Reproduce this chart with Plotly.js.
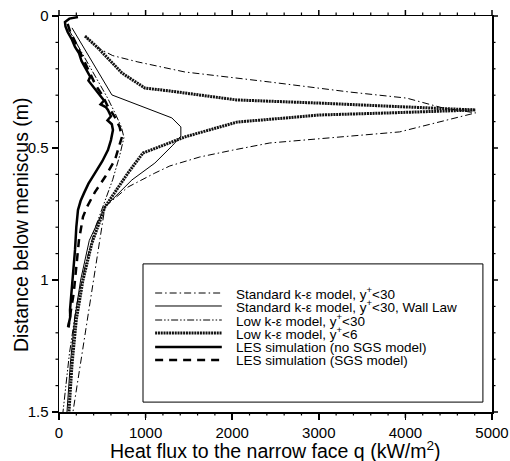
<!DOCTYPE html>
<html>
<head>
<meta charset="utf-8">
<script src="https://cdn.plot.ly/plotly-3.0.1.min.js"></script>
<style>
  html, body { margin: 0; padding: 0; background: #fff; }
  #chart { width: 510px; height: 461px; }
</style>
</head>
<body>
<div id="chart"></div>
<script>
// Heat flux to the narrow face (kW/m^2) versus distance below the meniscus (m)

// Standard k-eps model, y+<30
const stdQ = [300, 450, 620, 911, 1453, 2088, 2434, 3356, 4014, 4429, 4810, 3933, 2434, 2007, 1626, 1280, 1107, 796, 531, 161];
const stdD = [0.075, 0.121, 0.15, 0.174, 0.212, 0.235, 0.25, 0.288, 0.311, 0.348, 0.367, 0.439, 0.481, 0.508, 0.534, 0.568, 0.595, 0.648, 0.723, 1.5];

// Standard k-eps model, y+<30, wall law
const wallQ = [150, 611, 1303, 1407, 1407, 1315, 1107, 842, 531, 350, 250, 180, 130, 92];
const wallD = [0.045, 0.299, 0.386, 0.42, 0.455, 0.489, 0.557, 0.621, 0.723, 0.85, 1.0, 1.15, 1.32, 1.5];

// Low k-eps model, y+<30
const low30Q = [115, 250, 400, 560, 650, 720, 750, 700, 620, 531, 420, 300, 200, 120, 46];
const low30D = [0.053, 0.13, 0.22, 0.31, 0.37, 0.42, 0.46, 0.53, 0.62, 0.70, 0.80, 0.95, 1.1, 1.28, 1.5];

// Low k-eps model, y+<6
const low6Q = [300, 450, 727, 992, 1280, 1626, 2053, 3010, 3818, 4810, 3818, 3010, 2053, 1453, 969, 796, 531, 380, 277, 200, 150, 115];
const low6D = [0.076, 0.121, 0.216, 0.273, 0.284, 0.299, 0.318, 0.33, 0.341, 0.356, 0.367, 0.375, 0.402, 0.458, 0.519, 0.595, 0.723, 0.86, 1.0, 1.15, 1.32, 1.5];

// LES simulation (no SGS model)
const lesQ = [219, 120, 69, 75, 100, 150, 185, 230, 260, 334, 360, 340, 400, 450, 496, 520, 480, 540, 565, 600, 560, 610, 623, 600, 565, 500, 415, 340, 290, 250, 219, 200, 185, 170, 150, 140, 127, 130, 104];
const lesD = [0.004, 0.01, 0.023, 0.04, 0.06, 0.09, 0.117, 0.14, 0.17, 0.216, 0.23, 0.245, 0.27, 0.29, 0.307, 0.32, 0.335, 0.345, 0.356, 0.38, 0.395, 0.41, 0.432, 0.47, 0.508, 0.55, 0.595, 0.635, 0.67, 0.70, 0.735, 0.8, 0.886, 0.95, 1.0, 1.05, 1.114, 1.14, 1.178];

// LES simulation (SGS model)
const sgsQ = [100, 130, 190, 260, 330, 420, 500, 560, 640, 700, 727, 690, 646, 531, 415, 323, 277, 230, 200, 170, 135, 110];
const sgsD = [0.03, 0.06, 0.1, 0.15, 0.2, 0.26, 0.3, 0.34, 0.38, 0.42, 0.458, 0.5, 0.545, 0.61, 0.667, 0.723, 0.761, 0.85, 0.95, 1.05, 1.12, 1.18];

const seriesNames = [
  'Standard k-\u03b5 model, y<sup>+</sup>&lt;30',
  'Standard k-\u03b5 model, y<sup>+</sup>&lt;30, Wall Law',
  'Low k-\u03b5 model, y<sup>+</sup>&lt;30',
  'Low k-\u03b5 model, y<sup>+</sup>&lt;6',
  'LES simulation (no SGS model)',
  'LES simulation (SGS model)'
];

const styles = [
  { color: '#000', width: 1, dash: '7px,3px,1.5px,3px' },
  { color: '#000', width: 1, dash: 'solid' },
  { color: '#000', width: 1, dash: '7px,2px,1.5px,2px,1.5px,2px' },
  { color: '#111', width: 3, dash: '2px,0.8px' },
  { color: '#000', width: 2.5, dash: 'solid' },
  { color: '#000', width: 2.5, dash: '8px,6px' }
];

const data = [
  [stdQ, stdD], [wallQ, wallD], [low30Q, low30D],
  [low6Q, low6D], [lesQ, lesD], [sgsQ, sgsD]
];

const traces = data.map((s, i) => ({
  x: s[0], y: s[1], type: 'scatter', mode: 'lines',
  name: seriesNames[i], line: styles[i], showlegend: false, hoverinfo: 'skip'
}));

// axis extents and tick spacing
const X_MAX = 5000, X_MAJOR = 1000, X_MINOR = 200;
const Y_MAX = 1.5, Y_MAJOR = 0.5, Y_MINOR = 0.1;
const MAJOR_LEN = 6, MINOR_LEN = 3.5;

// Boxed key in the lower right of the plot area
const keyX0 = 0.194, keyX1 = 0.979, keyY0 = 0.025, keyY1 = 0.374;
const sampleX0 = 0.222, sampleX1 = 0.376, textX = 0.404;
const rowY = [0.3005, 0.2677, 0.2323, 0.1995, 0.1641, 0.1313];
const FONT = 'Liberation Sans, Arial, sans-serif';

const shapes = [{
  type: 'rect', xref: 'paper', yref: 'paper',
  x0: keyX0, x1: keyX1, y0: keyY0, y1: keyY1,
  line: { color: '#000', width: 1 }, fillcolor: '#fff', layer: 'above'
}];
const annotations = [];
styles.forEach((st, i) => {
  shapes.push({
    type: 'line', xref: 'paper', yref: 'paper',
    x0: sampleX0, x1: sampleX1, y0: rowY[i], y1: rowY[i],
    line: { color: st.color, width: st.width, dash: st.dash }, layer: 'above'
  });
  annotations.push({
    xref: 'paper', yref: 'paper', x: textX, y: rowY[i],
    xanchor: 'left', yanchor: 'middle', showarrow: false,
    text: seriesNames[i],
    font: { family: FONT, size: 13.5, color: '#000' }
  });
});

// outward tick marks on all four sides of the frame
function tickMark(isX, frac, side, len, width) {
  const s = { type: 'line', layer: 'above', line: { color: '#000', width: width } };
  if (isX) {
    Object.assign(s, { xref: 'paper', x0: frac, x1: frac, yref: 'paper',
      ysizemode: 'pixel', yanchor: side, y0: 0, y1: side === 0 ? -len : len });
  } else {
    Object.assign(s, { yref: 'paper', y0: frac, y1: frac, xref: 'paper',
      xsizemode: 'pixel', xanchor: side, x0: 0, x1: side === 0 ? -len : len });
  }
  return s;
}
for (let k = 0; k <= Math.round(X_MAX / X_MINOR); k++) {
  const v = k * X_MINOR;
  const major = Math.abs(v / X_MAJOR - Math.round(v / X_MAJOR)) < 1e-9;
  const len = major ? MAJOR_LEN : MINOR_LEN, w = major ? 1.5 : 1.2;
  shapes.push(tickMark(true, v / X_MAX, 0, len, w));
  shapes.push(tickMark(true, v / X_MAX, 1, len, w));
}
for (let k = 0; k <= Math.round(Y_MAX / Y_MINOR); k++) {
  const v = k * Y_MINOR;
  const major = Math.abs(v / Y_MAJOR - Math.round(v / Y_MAJOR)) < 1e-9;
  const len = major ? MAJOR_LEN : MINOR_LEN, w = major ? 1.5 : 1.2;
  shapes.push(tickMark(false, 1 - v / Y_MAX, 0, len, w));
  shapes.push(tickMark(false, 1 - v / Y_MAX, 1, len, w));
}

// axis titles
annotations.push({
  xref: 'paper', yref: 'paper', x: 0, y: 0.472, xshift: -38,
  xanchor: 'center', yanchor: 'middle', textangle: -90, showarrow: false,
  text: 'Distance below meniscus (m)',
  font: { family: FONT, size: 19.5, color: '#000' }
});
annotations.push({
  xref: 'paper', yref: 'paper', x: 0.5, y: 0, yshift: -38,
  xanchor: 'center', yanchor: 'middle', showarrow: false,
  text: 'Heat flux to the narrow face q (kW/m<sup>2</sup>)',
  font: { family: FONT, size: 19.5, color: '#000' }
});

const axisCommon = {
  showline: true, linecolor: '#000', linewidth: 1.5, mirror: true,
  ticks: 'outside', ticklen: MAJOR_LEN, tickwidth: 1.5, tickcolor: '#000',
  showgrid: false, zeroline: false,
  tickfont: { family: FONT, size: 15, color: '#000' }
};

const layout = {
  width: 510, height: 461,
  margin: { l: 59, r: 18, t: 16, b: 49 },
  paper_bgcolor: '#fff', plot_bgcolor: '#fff',
  showlegend: false,
  xaxis: Object.assign({}, axisCommon, {
    range: [0, X_MAX], tick0: 0, dtick: X_MAJOR
  }),
  yaxis: Object.assign({}, axisCommon, {
    range: [Y_MAX, 0], tick0: 0, dtick: Y_MAJOR
  }),
  shapes: shapes,
  annotations: annotations
};

Plotly.newPlot('chart', traces, layout, { staticPlot: true, displayModeBar: false });
</script>
</body>
</html>
